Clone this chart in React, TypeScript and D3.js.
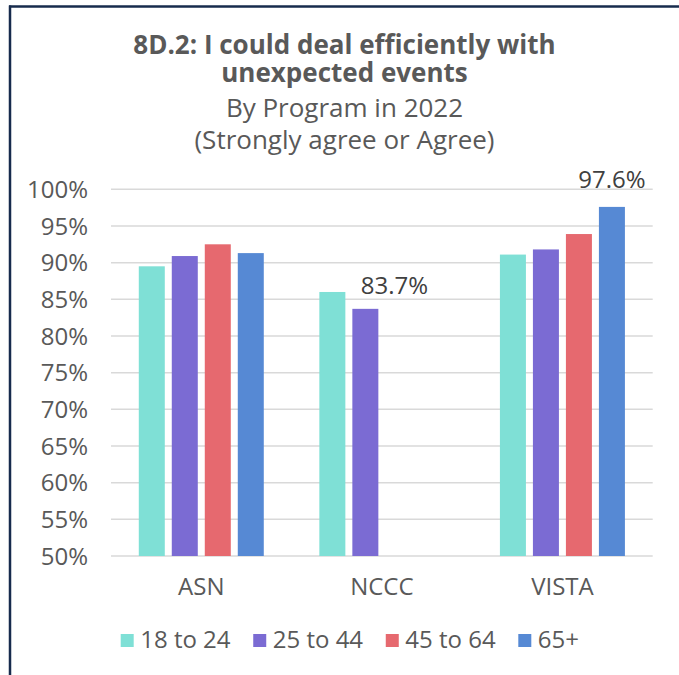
import React from 'react';
import * as d3 from 'd3';

const programs = ['ASN', 'NCCC', 'VISTA'];
const ageGroups = ['18 to 24', '25 to 44', '45 to 64', '65+'];
const asnValues = [89.5, 90.9, 92.5, 91.3];
const ncccValues = [86.0, 83.7, null, null];
const vistaValues = [91.1, 91.8, 93.9, 97.6];
const yTicks = [50, 55, 60, 65, 70, 75, 80, 85, 90, 95, 100];
const colors = ['#7FE0D6', '#7B6BD3', '#E6696F', '#5689D4'];
const titleLines = ['8D.2: I could deal efficiently with', 'unexpected events'];
const subtitleLines = ['By Program in 2022', '(Strongly agree or Agree)'];

// labelled bars: program, age group, offset of the label from bar centre
const dataLabels = [
  { program: 'NCCC', group: '25 to 44', dx: 29, dy: -15 },
  { program: 'VISTA', group: '65+', dx: 0, dy: -19 },
];

const W = 679;
const H = 675;
const FONT = '"Open Sans", sans-serif';
const TEXT = '#595959';

export default function App() {
  const series = [asnValues, ncccValues, vistaValues];
  const rows = programs.map((p, i) => ({ program: p, values: series[i] }));

  const x = d3.scaleBand<string>().domain(programs).range([111, 652.7]);
  const x1 = d3
    .scaleBand<string>()
    .domain(ageGroups)
    .range([0, x.bandwidth()])
    .paddingInner(0.212)
    .paddingOuter(0.842);
  const y = d3.scaleLinear().domain([50, 100]).range([556, 189.3]);
  const fmt = (v: number) => `${v.toFixed(1)}%`;

  const legendX = d3.scalePoint<string>().domain(ageGroups).range([120.7, 518.3]);

  return (
    <svg
      width={W}
      height={H}
      style={{ position: 'fixed', left: 0, top: 0, background: '#fff' }}
      fontFamily={FONT}
    >
      <rect width={W} height={H} fill="#fff" />
      {/* frame: top and left edges */}
      <line x1={9} x2={W} y1={6.5} y2={6.5} stroke="#172B4D" strokeWidth={2.5} />
      <line x1={10} x2={10} y1={5.5} y2={H} stroke="#172B4D" strokeWidth={2.5} />

      {/* titles */}
      <g textAnchor="middle" fill={TEXT}>
        {titleLines.map((t, i) => (
          <text key={t} x={344.5} y={54 + i * 28} fontSize={26} fontWeight="bold">
            {t}
          </text>
        ))}
        {subtitleLines.map((t, i) => (
          <text key={t} x={344.5} y={117 + i * 32} fontSize={26}>
            {t}
          </text>
        ))}
      </g>

      {/* gridlines and y labels */}
      <g>
        {yTicks.map((t) => (
          <g key={t}>
            <line x1={111} x2={652.7} y1={y(t)} y2={y(t)} stroke="#D9D9D9" strokeWidth={1.5} />
            <text
              x={88}
              y={y(t)}
              dy="0.36em"
              textAnchor="end"
              fontSize={24}
              fill={TEXT}
            >
              {t}%
            </text>
          </g>
        ))}
      </g>

      {/* bars */}
      {rows.map((r) => (
        <g key={r.program} transform={`translate(${x(r.program)},0)`}>
          {r.values.map((v, i) =>
            v == null ? null : (
              <rect
                key={ageGroups[i]}
                x={x1(ageGroups[i])}
                y={y(v)}
                width={x1.bandwidth()}
                height={y(50) - y(v)}
                fill={colors[i]}
              />
            )
          )}
        </g>
      ))}

      {/* data labels */}
      {dataLabels.map((l) => {
        const v = rows.find((r) => r.program === l.program)!.values[ageGroups.indexOf(l.group)] as number;
        const cx = (x(l.program) as number) + (x1(l.group) as number) + x1.bandwidth() / 2;
        return (
          <text
            key={l.program + l.group}
            x={cx + l.dx}
            y={y(v) + l.dy}
            textAnchor="middle"
            fontSize={24}
            fill="#404040"
          >
            {fmt(v)}
          </text>
        );
      })}

      {/* category labels */}
      {programs.map((p) => (
        <text
          key={p}
          x={(x(p) as number) + x.bandwidth() / 2}
          y={595}
          textAnchor="middle"
          fontSize={24}
          fill={TEXT}
        >
          {p}
        </text>
      ))}

      {/* legend */}
      {ageGroups.map((g, i) => (
        <g key={g} transform={`translate(${legendX(g)},634)`}>
          <rect width={13} height={13} fill={colors[i]} />
          <text x={19.5} y={14.3} fontSize={24} fill={TEXT}>
            {g}
          </text>
        </g>
      ))}
    </svg>
  );
}
